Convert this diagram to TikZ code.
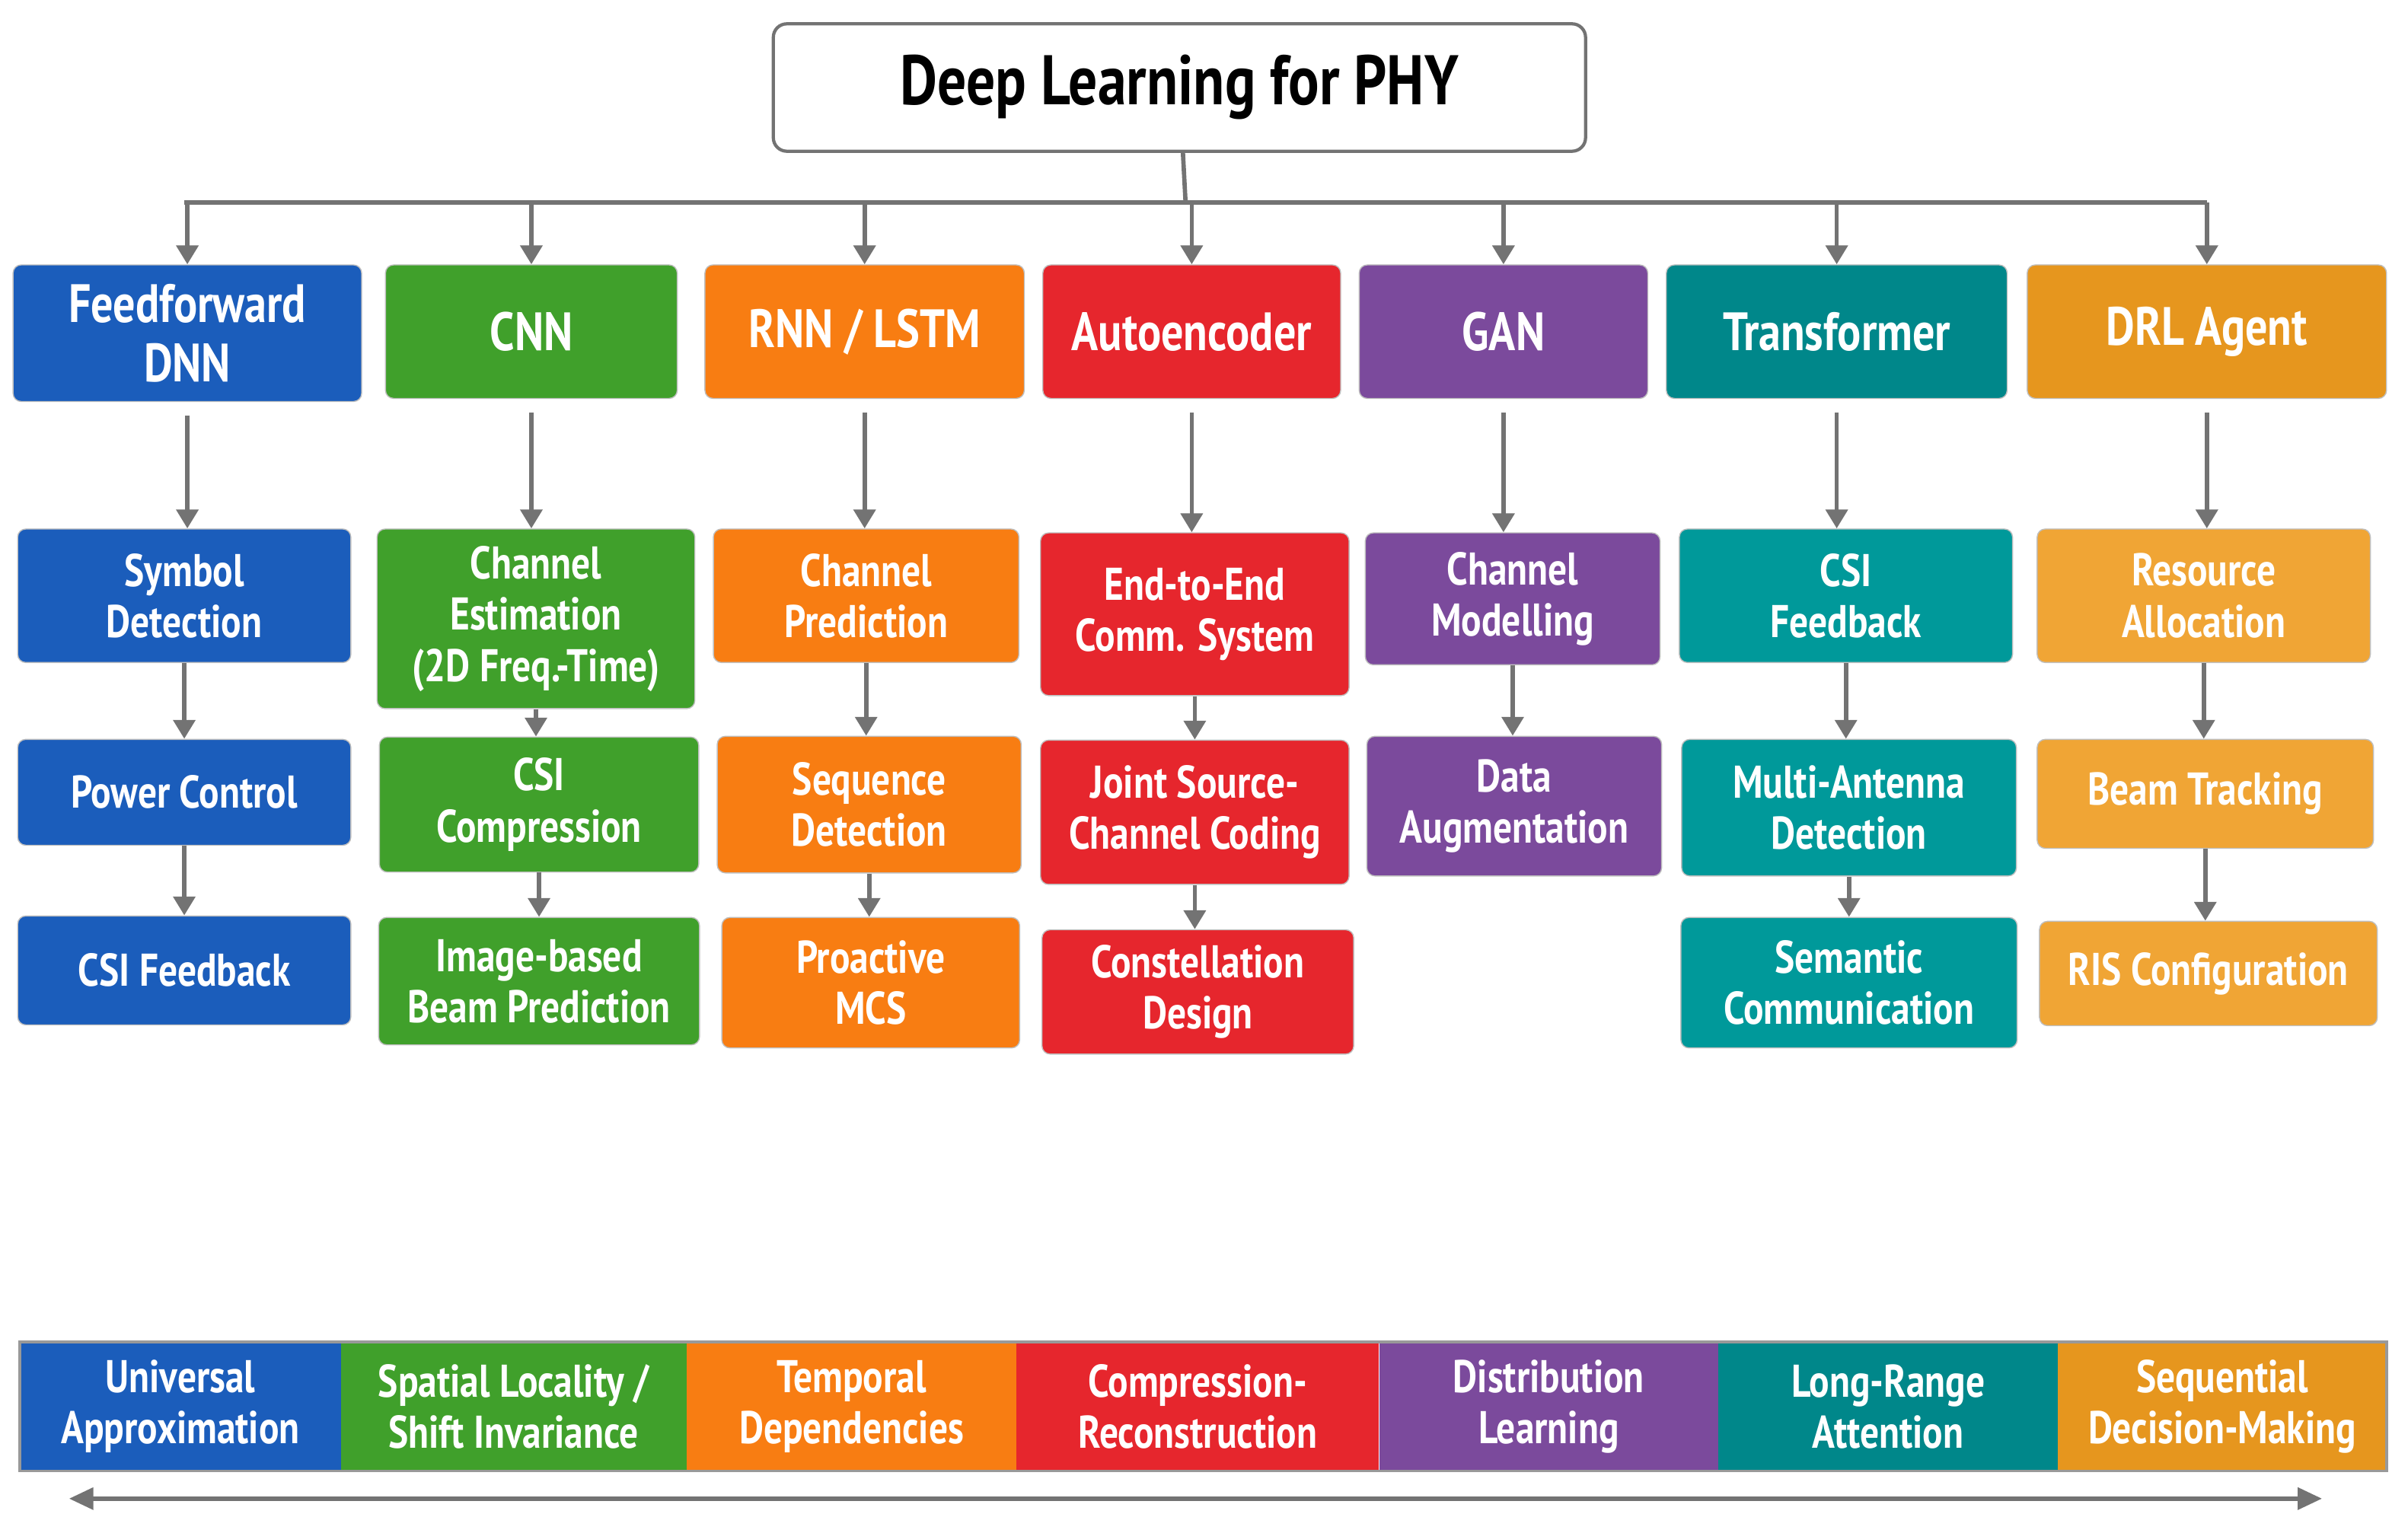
\documentclass[tikz,border=0pt]{standalone}
\usepackage{fontspec}
\setmainfont{PT Sans}[FakeStretch=0.82]
\usetikzlibrary{calc, positioning, arrows.meta}
\definecolor{cblue}{HTML}{1B5DBB}
\definecolor{cgreen}{HTML}{40A02B}
\definecolor{corange}{HTML}{F87D12}
\definecolor{cred}{HTML}{E6262D}
\definecolor{cpurple}{HTML}{7B4A9C}
\definecolor{cteal}{HTML}{00878A}
\definecolor{cteall}{HTML}{00999A}
\definecolor{cgold}{HTML}{E6961E}
\definecolor{cgoldl}{HTML}{F0A535}
\definecolor{cgray}{HTML}{737373}
\begin{document}
\begin{tikzpicture}[x=0.02cm, y=-0.02cm,
  box/.style={draw=black!25, rounded corners=3pt, text=white, align=center, font=\bfseries\fontsize{17}{19}\selectfont, inner sep=1pt},
  head/.style={box, font=\bfseries\fontsize{20}{22}\selectfont},
  band/.style={text=white, align=center, font=\bfseries\fontsize{17}{19}\selectfont, minimum height=1.68cm, inner sep=0pt},
  conn/.style={draw=cgray, line width=1.6pt, -{Triangle[length=7pt, width=8pt]}}]
  \useasboundingbox (0,0) rectangle (1568,998);

  \node[draw=cgray, line width=1.2pt, rounded corners=5pt, minimum width=10.58cm, minimum height=1.66cm, font=\bfseries\fontsize{26}{28}\selectfont] (title) at (768,57) {Deep Learning for PHY};
  \coordinate (bus) at (772,132);
  \coordinate (busl) at (120,132);
  \coordinate (busr) at (1437,132);

  % model headers
  \node[head, fill=cblue, minimum width=4.54cm, minimum height=1.78cm] (h1) at (122,217) {Feedforward\\DNN};
  \node[head, fill=cgreen, minimum width=3.80cm, minimum height=1.74cm] (h2) at (346,216) {CNN};
  \node[head, fill=corange, minimum width=4.16cm, minimum height=1.74cm] (h3) at (563,216) {RNN / LSTM};
  \node[head, fill=cred, minimum width=3.88cm, minimum height=1.74cm] (h4) at (776,216) {Autoencoder};
  \node[head, fill=cpurple, minimum width=3.76cm, minimum height=1.74cm] (h5) at (979,216) {GAN};
  \node[head, fill=cteal, minimum width=4.44cm, minimum height=1.74cm] (h6) at (1196,216) {Transformer};
  \node[head, fill=cgold, minimum width=4.68cm, minimum height=1.74cm] (h7) at (1437,216) {DRL Agent};

  % applications
  \node[box, fill=cblue, minimum width=4.34cm, minimum height=1.74cm] (a1) at (120,388) {Symbol\\Detection};
  \node[box, fill=cblue, minimum width=4.34cm, minimum height=1.38cm] (b1) at (120,516) {Power Control};
  \node[box, fill=cblue, minimum width=4.34cm, minimum height=1.42cm] (c1) at (120,632) {CSI Feedback};

  \node[box, fill=cgreen, minimum width=4.14cm, minimum height=2.34cm] (a2) at (349,403) {Channel\\Estimation\\(2D Freq.-Time)};
  \node[box, fill=cgreen, minimum width=4.16cm, minimum height=1.76cm] (b2) at (351,524) {CSI\\Compression};
  \node[box, fill=cgreen, minimum width=4.18cm, minimum height=1.66cm] (c2) at (351,639) {Image-based\\Beam Prediction};

  \node[box, fill=corange, minimum width=3.98cm, minimum height=1.74cm] (a3) at (564,388) {Channel\\Prediction};
  \node[box, fill=corange, minimum width=3.96cm, minimum height=1.78cm] (b3) at (566,524) {Sequence\\Detection};
  \node[box, fill=corange, minimum width=3.88cm, minimum height=1.70cm] (c3) at (567,640) {Proactive\\MCS};

  \node[box, fill=cred, minimum width=4.02cm, minimum height=2.12cm] (a4) at (778,400) {End-to-End\\Comm. System};
  \node[box, fill=cred, minimum width=4.02cm, minimum height=1.88cm] (b4) at (778,529) {Joint Source-\\Channel Coding};
  \node[box, fill=cred, minimum width=4.06cm, minimum height=1.62cm] (c4) at (780,646) {Constellation\\Design};

  \node[box, fill=cpurple, minimum width=3.84cm, minimum height=1.72cm] (a5) at (985,390) {Channel\\Modelling};
  \node[box, fill=cpurple, minimum width=3.84cm, minimum height=1.82cm] (b5) at (986,525) {Data\\Augmentation};

  \node[box, fill=cteall, minimum width=4.34cm, minimum height=1.74cm] (a6) at (1202,388) {CSI\\Feedback};
  \node[box, fill=cteall, minimum width=4.36cm, minimum height=1.78cm] (b6) at (1204,526) {Multi-Antenna\\Detection};
  \node[box, fill=cteall, minimum width=4.38cm, minimum height=1.70cm] (c6) at (1204,640) {Semantic\\Communication};

  \node[box, fill=cgoldl, minimum width=4.34cm, minimum height=1.74cm] (a7) at (1435,388) {Resource\\Allocation};
  \node[box, fill=cgoldl, minimum width=4.38cm, minimum height=1.42cm] (b7) at (1436,517) {Beam Tracking};
  \node[box, fill=cgoldl, minimum width=4.40cm, minimum height=1.36cm] (c7) at (1438,634) {RIS Configuration};

  % bottom band
  \node[band, fill=cblue, minimum width=4.18cm] (p1) at (117.5,916) {Universal\\Approximation};
  \node[band, fill=cgreen, minimum width=4.50cm] (p2) at (334.5,916) {Spatial Locality /\\Shift Invariance};
  \node[band, fill=corange, minimum width=4.30cm] (p3) at (554.5,916) {Temporal\\Dependencies};
  \node[band, fill=cred, minimum width=4.72cm] (p4) at (780,916) {Compression-\\Reconstruction};
  \node[band, fill=cpurple, minimum width=4.42cm] (p5) at (1008.5,916) {Distribution\\Learning};
  \node[band, fill=cteal, minimum width=4.42cm] (p6) at (1229.5,916) {Long-Range\\Attention};
  \node[band, fill=cgold, minimum width=4.28cm] (p7) at (1447,916) {Sequential\\Decision-Making};
  \draw[black!40, line width=1pt] (13,874) rectangle (1554,958);
  \coordinate (la) at (45,976);
  \coordinate (ra) at (1512,976);
  \draw[draw=cgray, line width=1.6pt, {Triangle[length=9pt, width=8pt]}-{Triangle[length=9pt, width=8pt]}] (la) -- (ra);

  % connectors
  \draw[cgray, line width=1.6pt] (title) -- (bus);
  \draw[cgray, line width=1.6pt] (busl) -- (busr);
  \foreach \i in {1,...,7}
    \draw[conn] (h\i.north |- bus) -- (h\i.north);
  \foreach \i in {1,2,3,4,5,6,7}
    \draw[conn] ([yshift=-5pt]h\i.south) -- (h\i.south |- a\i.north);
  \foreach \i in {1,2,3,4,5,6,7}
    \draw[conn] (a\i.south) -- (a\i.south |- b\i.north);
  \foreach \i in {1,2,3,4,6,7}
    \draw[conn] (b\i.south) -- (b\i.south |- c\i.north);
\end{tikzpicture}
\end{document}
